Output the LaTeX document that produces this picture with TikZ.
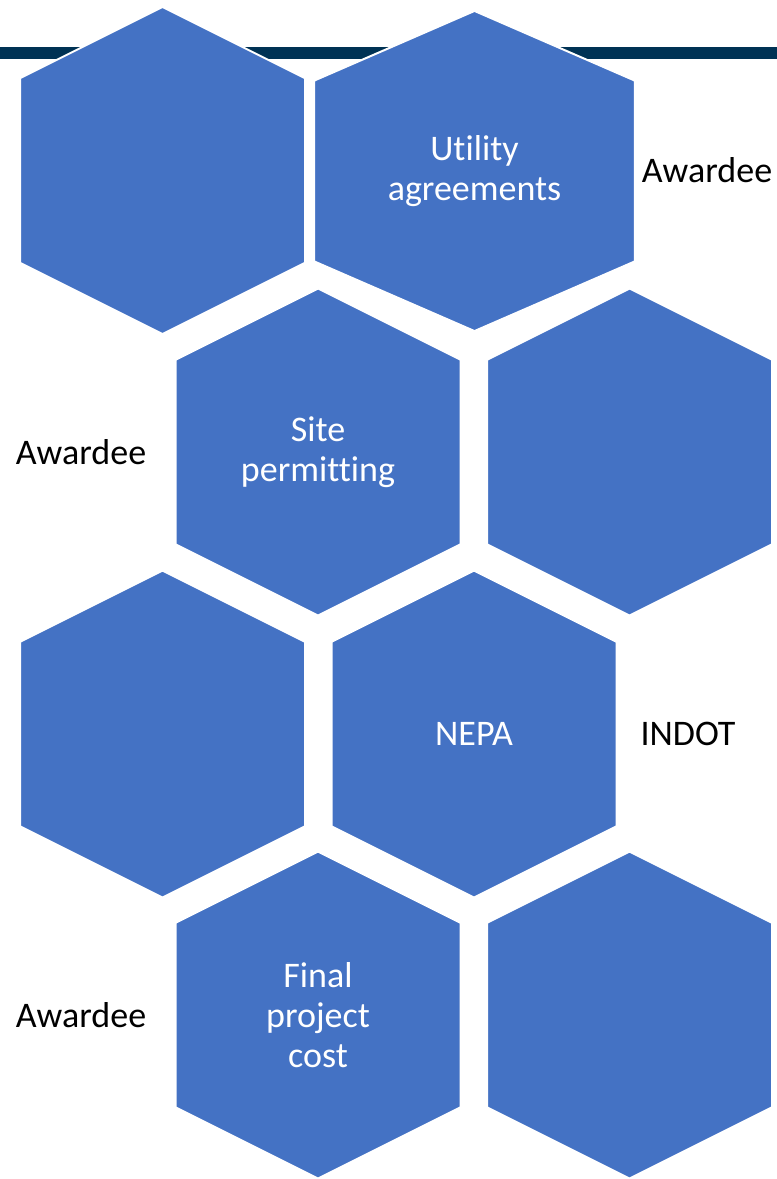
\documentclass[tikz,border=0pt]{standalone}
\usepackage{fontspec}
\setmainfont{Carlito}[Ligatures={NoCommon}]
\definecolor{hexblue}{RGB}{68,114,196}
\definecolor{barnavy}{RGB}{0,50,84}
\tikzset{
  hexcell/.pic={\filldraw[fill=hexblue, draw=white, line width=2pt] (0,-163.5) -- (142.5,-92.25) -- (142.5,92.25) -- (0,163.5) -- (-142.5,92.25) -- (-142.5,-92.25) -- cycle;},
  celltext/.style={text=white, align=center, font=\fontsize{36}{40}\selectfont},
  sidetext/.style={text=black, font=\fontsize{36}{40}\selectfont}
}
\begin{document}
\begin{tikzpicture}[x=1pt, y=-1pt]
\useasboundingbox (0,0) rectangle (777,1179);
\fill[barnavy] (0,47) rectangle (777,59);
% row 1
\pic at (162.5,170.5) {hexcell};
\pic[xscale=1.126, yscale=0.979] at (474.5,171) {hexcell};
\node[celltext] (util) at (474.5,171) {Utility\\agreements};
\node[sidetext] (utilwho) at (707,170) {Awardee};
% row 2
\pic at (318,452) {hexcell};
\pic at (629.5,452) {hexcell};
\node[celltext] (site) at (318,452) {Site\\permitting};
\node[sidetext] (sitewho) at (81,452) {Awardee};
% row 3
\pic at (162.5,734) {hexcell};
\pic at (474,734) {hexcell};
\node[celltext] (nepa) at (474,734) {NEPA};
\node[sidetext] (nepawho) at (688,734) {INDOT};
% row 4
\pic at (318,1015) {hexcell};
\pic at (629.5,1015) {hexcell};
\node[celltext] (cost) at (318,1015) {Final\\project\\cost};
\node[sidetext] (costwho) at (81,1015) {Awardee};
\end{tikzpicture}
\end{document}
